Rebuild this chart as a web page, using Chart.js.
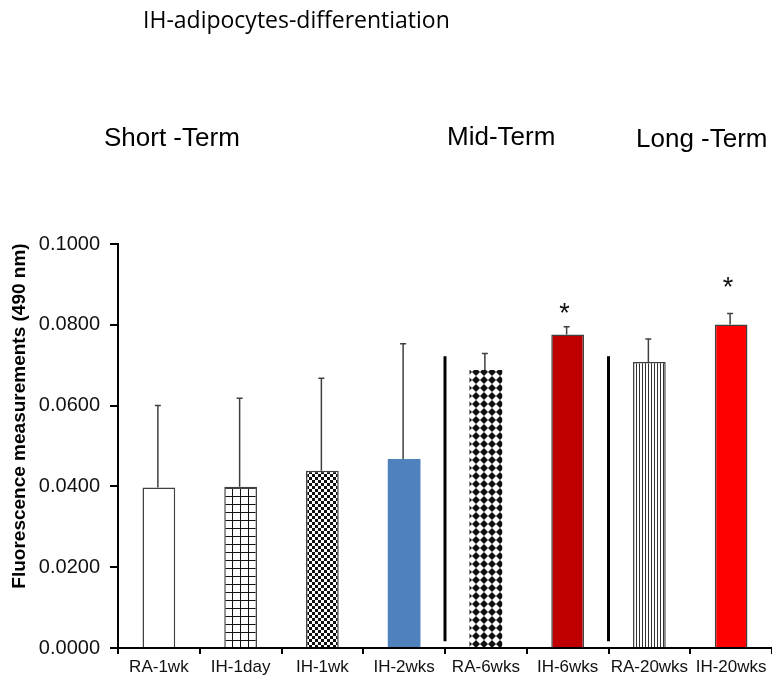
<!DOCTYPE html>
<html>
<head>
<meta charset="utf-8">
<title>IH-adipocytes-differentiation</title>
<script src="https://cdn.jsdelivr.net/npm/chart.js@4.4.1/dist/chart.umd.min.js"></script>
<style>
  html, body { margin: 0; padding: 0; background: #fff; }
</style>
</head>
<body>
<canvas id="myChart" width="772" height="679"></canvas>
<script>
  const groups = ['RA-1wk', 'IH-1day', 'IH-1wk', 'IH-2wks', 'RA-6wks', 'IH-6wks', 'RA-20wks', 'IH-20wks'];
  const means = [0.0397, 0.0399, 0.0439, 0.0468, 0.0688, 0.0776, 0.0708, 0.0801];
  const errors = [0.0203, 0.0219, 0.0229, 0.0285, 0.0041, 0.0019, 0.0057, 0.0027];
  const stars = ['', '', '', '', '', '*', '', '*'];
  const starLevels = [null, null, null, null, null, 0.0846, null, 0.0910];
  const yTicks = [0, 0.02, 0.04, 0.06, 0.08, 0.1];
  const periods = ['Short -Term', 'Mid-Term', 'Long -Term'];
  const dividers = [3.5, 5.5];
  const dividerSpan = [0.0017, 0.0722];
  const chartTitle = 'IH-adipocytes-differentiation';
  const yTitle = 'Fluorescence measurements (490 nm)';

  // little tiles for the hatched bars
  function makePattern(size, draw) {
    var c = document.createElement('canvas');
    c.width = size; c.height = size;
    var g = c.getContext('2d');
    g.fillStyle = '#fff';
    g.fillRect(0, 0, size, size);
    g.fillStyle = '#111';
    draw(g, size);
    return g.createPattern(c, 'repeat');
  }
  const gridFill = makePattern(8, function (g) {
    g.fillRect(0, 0, 8, 1);
    g.fillRect(0, 0, 1, 8);
  });
  const checkFill = makePattern(6, function (g) {
    g.fillRect(0, 0, 3, 3);
    g.fillRect(3, 3, 3, 3);
  });
  const diamondFill = makePattern(8, function (g) {
    g.beginPath();
    g.moveTo(4, 0); g.lineTo(8, 4); g.lineTo(4, 8); g.lineTo(0, 4);
    g.closePath();
    g.fill();
  });
  const stripeFill = makePattern(3, function (g) {
    g.fillStyle = '#333';
    g.fillRect(0, 0, 1, 3);
  });

  const fills = ['#ffffff', gridFill, checkFill, '#4F81BD', diamondFill, '#C00000', stripeFill, '#FF0000'];
  const borders = [1.5, 1.5, 1.5, 0, 0, 1.5, 1.5, 1.5];

  const extras = {
    id: 'extras',
    afterDatasetsDraw(chart) {
      const ctx = chart.ctx;
      const x = chart.scales.x, y = chart.scales.y;
      const bars = chart.getDatasetMeta(0).data;
      ctx.save();
      // error bars (upper only)
      ctx.strokeStyle = '#404040';
      ctx.lineWidth = 1.5;
      for (let i = 0; i < means.length; i++) {
        const bx = bars[i].x - 1;
        const y0 = y.getPixelForValue(means[i]);
        const y1 = y.getPixelForValue(means[i] + errors[i]);
        ctx.beginPath();
        ctx.moveTo(bx, y0); ctx.lineTo(bx, y1);
        ctx.moveTo(bx - 3, y1); ctx.lineTo(bx + 3, y1);
        ctx.stroke();
      }
      // separators between the periods
      ctx.strokeStyle = '#000';
      ctx.lineWidth = 3;
      dividers.forEach(function (d) {
        const dx = x.getPixelForValue(d);
        ctx.beginPath();
        ctx.moveTo(dx, y.getPixelForValue(dividerSpan[0]));
        ctx.lineTo(dx, y.getPixelForValue(dividerSpan[1]));
        ctx.stroke();
      });
      // significance stars
      ctx.fillStyle = '#111';
      ctx.font = '27px "Liberation Sans", Arial';
      ctx.textAlign = 'center';
      ctx.textBaseline = 'alphabetic';
      for (let i = 0; i < stars.length; i++) {
        if (!stars[i]) continue;
        ctx.fillText(stars[i], bars[i].x - 3, y.getPixelForValue(starLevels[i]) + 16);
      }
      ctx.restore();
    },
    afterDraw(chart) {
      const ctx = chart.ctx;
      ctx.save();
      ctx.fillStyle = '#000';
      ctx.textBaseline = 'alphabetic';
      ctx.textAlign = 'left';
      ctx.font = '23px "Open Sans"';
      ctx.fillText(chartTitle, 143, 28);
      ctx.font = '26px "Liberation Sans", Arial';
      ctx.fillText(periods[0], 104, 146);
      ctx.fillText(periods[1], 447, 145);
      ctx.fillText(periods[2], 636, 147);
      // y axis title
      ctx.translate(20, 416);
      ctx.rotate(-Math.PI / 2);
      ctx.textAlign = 'center';
      ctx.textBaseline = 'middle';
      ctx.font = 'bold 19px "Liberation Sans", Arial';
      ctx.fillText(yTitle, 0, 0);
      ctx.restore();
    }
  };

  const ctx = document.getElementById('myChart').getContext('2d');
  const barChart = new Chart(ctx, {
    type: 'bar',
    data: {
      labels: groups,
      datasets: [{
        data: means,
        backgroundColor: fills,
        borderColor: '#404040',
        borderWidth: borders,
        categoryPercentage: 1.0,
        barPercentage: 0.4
      }]
    },
    options: {
      responsive: false,
      animation: false,
      devicePixelRatio: 1,
      layout: { padding: { top: 244, left: 0, right: 0, bottom: 0 } },
      plugins: {
        legend: { display: false },
        tooltip: { enabled: false }
      },
      scales: {
        x: {
          ticks: {
            font: { family: '"Liberation Sans", Arial', size: 17 },
            color: '#111',
            padding: 3,
            maxRotation: 0
          },
          grid: { drawOnChartArea: false, tickLength: 6, color: '#000', lineWidth: 2, offset: true },
          border: { display: true, color: '#000', width: 2 },
          afterFit: function (s) { s.height = 31; }
        },
        y: {
          min: 0,
          max: 0.1,
          afterBuildTicks: function (s) { s.ticks = yTicks.map(function (v) { return { value: v }; }); },
          ticks: {
            callback: function (v) { return v.toFixed(4); },
            font: { family: '"Liberation Sans", Arial', size: 20 },
            color: '#111',
            padding: 10
          },
          grid: { drawOnChartArea: false, tickLength: 8, color: '#000', lineWidth: 2 },
          border: { display: true, color: '#000', width: 2 },
          afterFit: function (s) { s.width = 118; }
        }
      }
    },
    plugins: [extras]
  });
</script>
</body>
</html>
